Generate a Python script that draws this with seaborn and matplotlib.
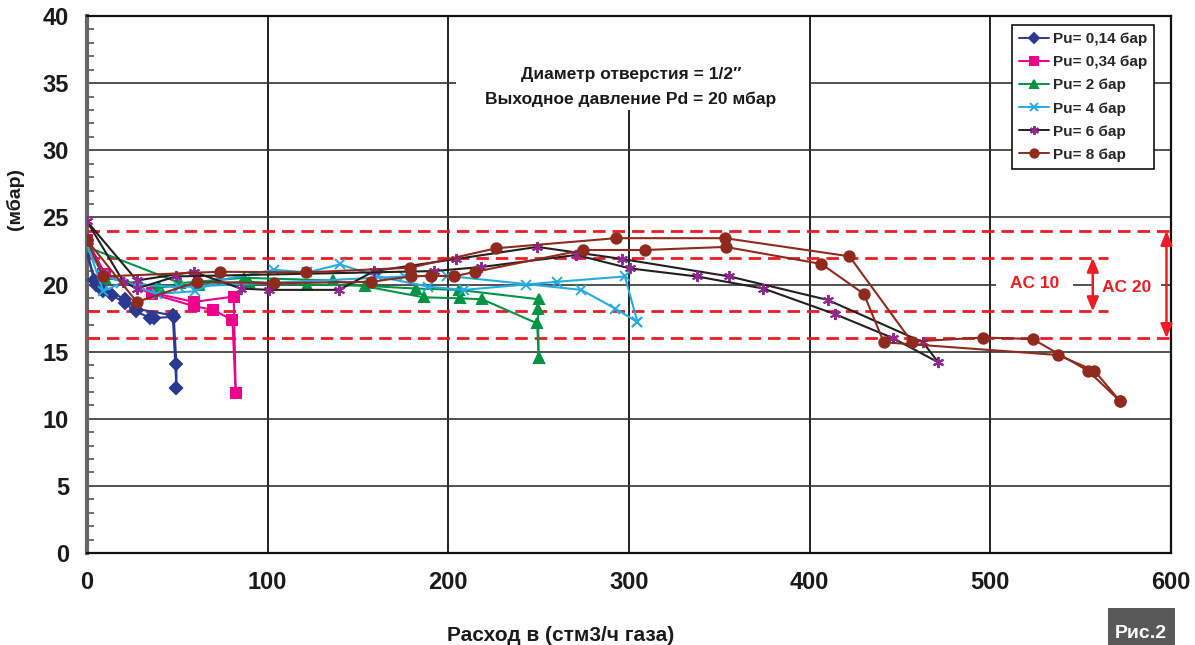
import matplotlib
matplotlib.use("Agg")
import matplotlib.pyplot as plt
from matplotlib import font_manager
from matplotlib.lines import Line2D
from matplotlib.patches import Rectangle
import seaborn as sns

# Pu = 0,14 bar (two passes: flow up / flow down)
P014_UP_X = [0, 4, 9, 14, 21, 27, 35, 37, 48, 49.5, 49.5]
P014_UP_Y = [22.4, 20.3, 19.5, 19.2, 18.6, 18.0, 17.5, 17.5, 17.6, 14.1, 12.3]
P014_DN_X = [49.5, 47.5, 27, 21, 5, 0]
P014_DN_Y = [12.3, 17.7, 18.2, 18.9, 20.0, 22.4]

# Pu = 0,34 bar
P034_UP_X = [0, 9, 36, 59, 70, 80.5, 82.3]
P034_UP_Y = [23.3, 20.8, 19.3, 18.4, 18.1, 17.35, 11.9]
P034_DN_X = [82.3, 81.2, 59, 36, 10, 0]
P034_DN_Y = [11.9, 19.1, 18.7, 19.4, 20.8, 23.3]

# Pu = 2 bar
P2_UP_X = [0, 10, 40, 62, 89.5, 122, 154, 182, 206, 250, 249.6, 250]
P2_UP_Y = [22.8, 20.5, 19.8, 20.0, 20.2, 20.0, 19.9, 19.7, 19.6, 18.9, 18.15, 14.5]
P2_DN_X = [250, 249.2, 218.7, 206.6, 186.3, 136.4, 86.8, 51.6, 0]
P2_DN_Y = [14.5, 17.1, 18.9, 18.97, 19.05, 20.3, 20.5, 20.1, 22.8]

# Pu = 4 bar
P4_UP_X = [0, 9, 38.7, 60, 72.9, 103.4, 122, 140, 161, 188.5, 208.5, 243, 260, 297.7, 304.7]
P4_UP_Y = [23.0, 20.7, 19.3, 19.5, 20.3, 21.1, 20.9, 21.5, 20.6, 19.85, 19.6, 20.0, 20.2, 20.6, 17.2]
P4_DN_X = [304.7, 292.5, 273.6, 199, 175.6, 50.7, 18.7, 9, 0]
P4_DN_Y = [17.2, 18.2, 19.6, 20.65, 20.6, 19.8, 20.1, 19.5, 23.0]

# Pu = 6 bar
P6_UP_X = [0, 27.6, 59, 85, 100.6, 139.5, 159, 204.3, 249.2, 296.2, 355.6, 410, 462.7, 471.2]
P6_UP_Y = [24.7, 20.3, 20.95, 19.7, 19.6, 19.6, 21.0, 21.9, 22.8, 21.9, 20.6, 18.85, 15.7, 14.2]
P6_DN_X = [471.2, 446.2, 413.9, 374.4, 337.5, 300.5, 270.8, 218.1, 191.9, 49.2, 27.6, 20.2, 0]
P6_DN_Y = [14.2, 16.0, 17.8, 19.7, 20.6, 21.2, 22.2, 21.3, 21.0, 20.6, 19.7, 20.2, 24.7]

# Pu = 8 bar
P8_UP_X = [0, 9, 73.4, 121, 178.9, 226.4, 292.7, 353.2, 422, 456.4, 496, 523.4, 554, 571.5]
P8_UP_Y = [23.3, 20.6, 20.95, 20.9, 21.25, 22.7, 23.45, 23.45, 22.1, 15.75, 16.05, 15.94, 13.58, 11.35]
P8_DN_X = [571.5, 557.6, 537.3, 441, 430, 406.5, 353.5, 308.8, 274.6, 215, 203, 190.4, 179.3, 157, 103.4, 60.9, 27.6, 0]
P8_DN_Y = [11.35, 13.58, 14.75, 15.7, 19.3, 21.53, 22.8, 22.57, 22.57, 20.95, 20.6, 20.66, 20.6, 20.2, 20.1, 20.2, 18.7, 23.3]

LABELS = ["Pu= 0,14 бар", "Pu= 0,34 бар", "Pu= 2 бар", "Pu= 4 бар", "Pu= 6 бар", "Pu= 8 бар"]

# AC bands (мбар) and how far the dashed lines run
AC_LEVELS = [24, 22, 18, 16]
AC_ENDS = [602, 565, 565, 602]

RED = "#ED1C24"
NAVY = "#2B3990"
MAGENTA = "#EC008C"
GREEN = "#009444"
CYAN = "#27AAE1"
PURPLE = "#92278F"
BROWN = "#8E2A1E"
BLACK = "#231F20"
TXT = "#1a1a1a"

# pick a narrow-ish font if one is there
names = {f.name for f in font_manager.fontManager.ttflist}
FONT = "Liberation Sans"
for cand in ["Liberation Sans Narrow", "DejaVu Sans Condensed", "Liberation Sans"]:
    if cand in names:
        FONT = cand
        break

sns.set_theme(style="white")
plt.rcParams['font.family'] = [FONT, 'DejaVu Sans']
plt.rcParams['font.weight'] = 'bold'

fig = plt.figure(figsize=(11.95, 6.45), dpi=100)
ax = fig.add_axes([87 / 1195, 1 - 553 / 645, (1171 - 87) / 1195, (553 - 16) / 645])

# line colour, marker, marker size, marker face, marker edge
styles = [
    (NAVY, "D", 6, NAVY, NAVY),
    (MAGENTA, "s", 7, MAGENTA, MAGENTA),
    (GREEN, "^", 7.5, GREEN, GREEN),
    (CYAN, "x", 7, CYAN, CYAN),
    (BLACK, (6, 2, 0), 8, PURPLE, PURPLE),
    (BROWN, "o", 7.5, BROWN, BROWN),
]
runs = [
    [(P014_UP_X, P014_UP_Y), (P014_DN_X, P014_DN_Y)],
    [(P034_UP_X, P034_UP_Y), (P034_DN_X, P034_DN_Y)],
    [(P2_UP_X, P2_UP_Y), (P2_DN_X, P2_DN_Y)],
    [(P4_UP_X, P4_UP_Y), (P4_DN_X, P4_DN_Y)],
    [(P6_UP_X, P6_UP_Y), (P6_DN_X, P6_DN_Y)],
    [(P8_UP_X, P8_UP_Y), (P8_DN_X, P8_DN_Y)],
]

handles = []
for (lc, mk, ms, mfc, mec), series_runs, lab in zip(styles, runs, LABELS):
    for xs, ys in series_runs:
        sns.lineplot(x=xs, y=ys, sort=False, estimator=None, ax=ax, color=lc,
                     linewidth=1.5, marker=mk, markersize=ms, markerfacecolor=mfc,
                     markeredgecolor=mec, markeredgewidth=1.4, zorder=5)
    handles.append(Line2D([], [], color=lc, lw=1.4, marker=mk, markersize=ms * 0.8,
                          markerfacecolor=mfc, markeredgecolor=mec, markeredgewidth=1.4))

# dashed AC limits
for lvl, end in zip(AC_LEVELS, AC_ENDS):
    ax.plot([0, end], [lvl, lvl], color=RED, lw=2.0, dashes=(4.5, 2.5), clip_on=False, zorder=3)

# axes, grid
ax.set_xlim(0, 600)
ax.set_ylim(0, 40)
ax.set_xticks(range(0, 601, 100))
ax.set_yticks(range(0, 41, 5))
ax.set_yticks(range(0, 41, 1), minor=True)
ax.grid(True, which="major", axis="x", color="#111111", lw=1.3, zorder=1)
ax.grid(True, which="major", axis="y", color="#333333", lw=1.2, zorder=1)
ax.tick_params(axis="x", length=0, pad=13, labelsize=17)
ax.tick_params(axis="y", which="major", length=0, pad=13, labelsize=17)
ax.tick_params(axis="y", which="minor", left=True, length=5, width=1.2, color="#555555", direction="in")
ax.spines["left"].set_color("#666666")
ax.spines["left"].set_linewidth(3)
for side in ["top", "bottom", "right"]:
    ax.spines[side].set_color("#111111")
    ax.spines[side].set_linewidth(1.6)
for t in ax.get_xticklabels() + ax.get_yticklabels():
    t.set_fontweight("bold")
    t.set_color(TXT)

ax.set_ylabel("(мбар)", fontsize=14, fontweight="bold", color=TXT)
ax.yaxis.set_label_coords(-0.058, 0.66)
fig.text(0.469, 0.014, "Расход в (стм3/ч газа)", ha="center", va="center",
         fontsize=15, fontweight="bold", color=TXT)

# title box inside the plot
ax.add_patch(Rectangle((204.5, 33.0), 195, 7, facecolor="white", edgecolor="none", zorder=2))
ax.text(301, 34.7, "Диаметр отверстия = 1/2″\nВыходное давление Pd = 20 мбар",
        ha="center", va="center", fontsize=12.5, fontweight="bold", color=TXT,
        linespacing=1.75, zorder=6)

# AC labels and arrows
ax.text(524.5, 20.05, "AC 10", ha="center", va="center", color=RED, fontsize=12.5,
        fontweight="bold", zorder=6,
        bbox=dict(boxstyle="square,pad=0.8", fc="white", ec="none"))
ax.text(575.5, 19.75, "AC 20", ha="center", va="center", color=RED, fontsize=12.5,
        fontweight="bold", zorder=6,
        bbox=dict(boxstyle="square,pad=0.55", fc="white", ec="none"))
ax.annotate("", xy=(556.7, 18), xytext=(556.7, 22),
            arrowprops=dict(arrowstyle="<|-|>,head_length=0.6,head_width=0.25", color=RED,
                            lw=1.8, mutation_scale=14, shrinkA=0, shrinkB=0), zorder=6)
ax.annotate("", xy=(597.5, 16), xytext=(597.5, 24),
            arrowprops=dict(arrowstyle="<|-|>,head_length=0.6,head_width=0.25", color=RED,
                            lw=1.8, mutation_scale=14, shrinkA=0, shrinkB=0),
            zorder=6, annotation_clip=False)

leg = ax.legend(handles, LABELS, loc="upper right", bbox_to_anchor=(0.984, 0.983),
                fontsize=11, frameon=True, fancybox=False, framealpha=1,
                edgecolor="#111111", handlelength=2.0, handletextpad=0.2,
                labelspacing=0.6, borderpad=0.45, borderaxespad=0)
leg.get_frame().set_linewidth(1.2)
leg.set_zorder(10)
for t in leg.get_texts():
    t.set_fontweight("bold")

# "Рис.2" tag at the bottom right
fig.patches.append(Rectangle((1108 / 1195, 0), 67 / 1195, 37 / 645, transform=fig.transFigure,
                             facecolor="#595959", edgecolor="none"))
fig.text(1141 / 1195, 0.004, "Рис.2", ha="center", va="bottom", color="white",
         fontsize=14, fontweight="bold")

plt.savefig("out.png", dpi=100)
